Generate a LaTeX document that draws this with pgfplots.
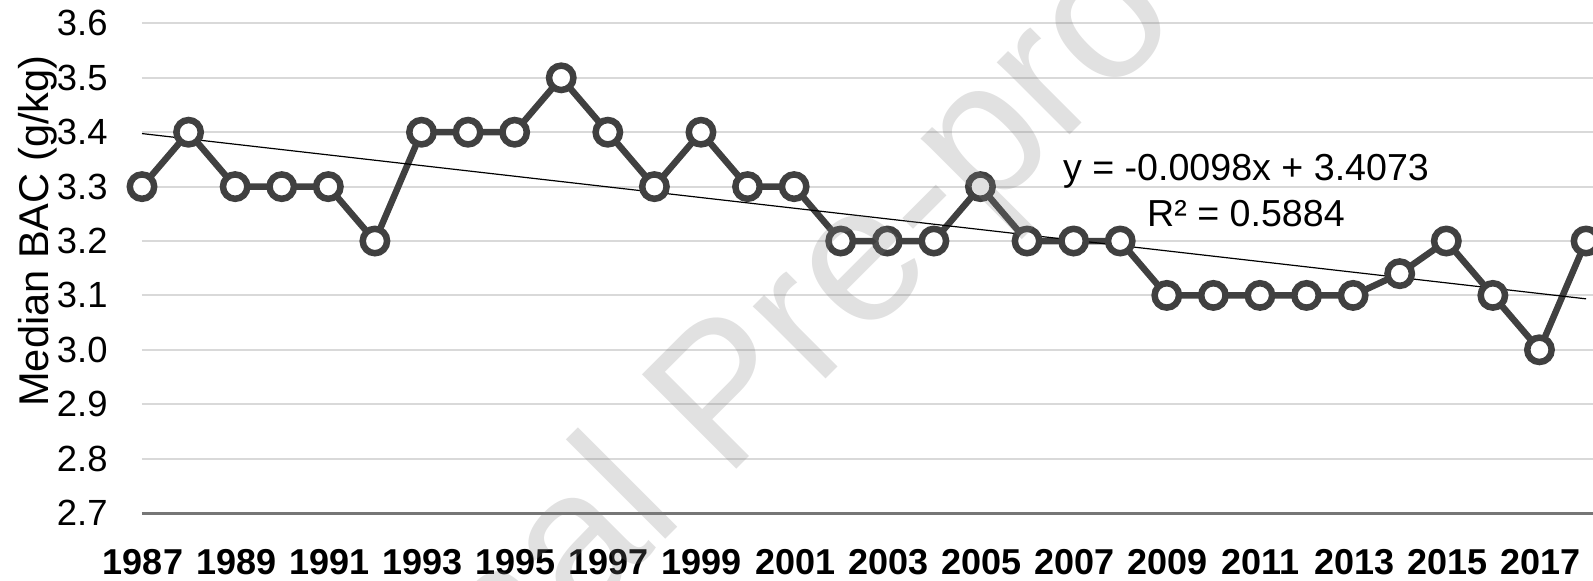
\documentclass[border=0pt]{standalone}
\usepackage{pgfplots}
\pgfplotsset{compat=1.18}
\usepackage{fontspec}
\setmainfont{Liberation Sans}
\definecolor{lineC}{HTML}{404040}
\definecolor{gridC}{HTML}{D9D9D9}
\definecolor{axisC}{HTML}{767676}
\definecolor{wmC}{HTML}{808080}
\begin{document}
\begin{tikzpicture}
\begin{axis}[
  at={(0,0)}, anchor=south west,
  scale only axis,
  width=725.5pt, height=244.8pt,
  xmin=1987, xmax=2018.15,
  ymin=2.7, ymax=3.6,
  axis x line*=bottom,
  axis y line*=left,
  x axis line style={draw=axisC, line width=1.5pt},
  y axis line style={draw=none},
  xtick={1987,1989,...,2017},
  xticklabels={1987,1989,1991,1993,1995,1997,1999,2001,2003,2005,2007,2009,2011,2013,2015,2017},
  xticklabel style={font=\fontsize{18}{20}\selectfont\bfseries, anchor=base, inner sep=0pt, yshift=-30.5pt, xshift=0.5pt},
  ytick={2.7,2.8,2.9,3.0,3.1,3.2,3.3,3.4,3.5,3.6},
  yticklabels={2.7,2.8,2.9,3.0,3.1,3.2,3.3,3.4,3.5,3.6},
  yticklabel style={font=\fontsize{18.2}{20}\selectfont, anchor=east, inner sep=0pt, xshift=-17pt},
  major tick length=0pt,
  ymajorgrids,
  grid style={draw=gridC, line width=1pt},
  every axis y label/.style={at={(axis description cs:-0.072,0.576)}, rotate=90, anchor=center},
  ylabel={Median BAC (g/kg)},
  ylabel style={font=\fontsize{20.8}{22}\selectfont},
]
\addplot[draw=lineC, line width=3.25pt, mark=*, mark size=6.1pt,
  mark options={fill=white, draw=lineC, line width=3.25pt}] coordinates {
(1987,3.3) (1988,3.4) (1989,3.3) (1990,3.3) (1991,3.3) (1992,3.2)
(1993,3.4) (1994,3.4) (1995,3.4) (1996,3.5) (1997,3.4) (1998,3.3)
(1999,3.4) (2000,3.3) (2001,3.3) (2002,3.2) (2003,3.2) (2004,3.2)
(2005,3.3) (2006,3.2) (2007,3.2) (2008,3.2) (2009,3.1) (2010,3.1)
(2011,3.1) (2012,3.1) (2013,3.1) (2014,3.14) (2015,3.2) (2016,3.1)
(2017,3.0) (2018,3.2)
};
\addplot[black, line width=0.6pt] coordinates {(1987,3.3975) (2018,3.0937)};
\node[align=center, font=\fontsize{18.8}{23}\selectfont, anchor=center] at (axis cs:2010.7,3.293) {y = -0.0098x + 3.4073\\R² = 0.5884};
\end{axis}
\node[rotate=45, text=wmC, text opacity=0.24, font=\fontsize{97}{97}\selectfont, anchor=center] at (295pt,55.25pt) {Journal Pre-proof};
\pgfresetboundingbox
\path[use as bounding box] (-71pt,-33.5pt) rectangle (725.5pt,256.5pt);
\end{tikzpicture}
\end{document}
